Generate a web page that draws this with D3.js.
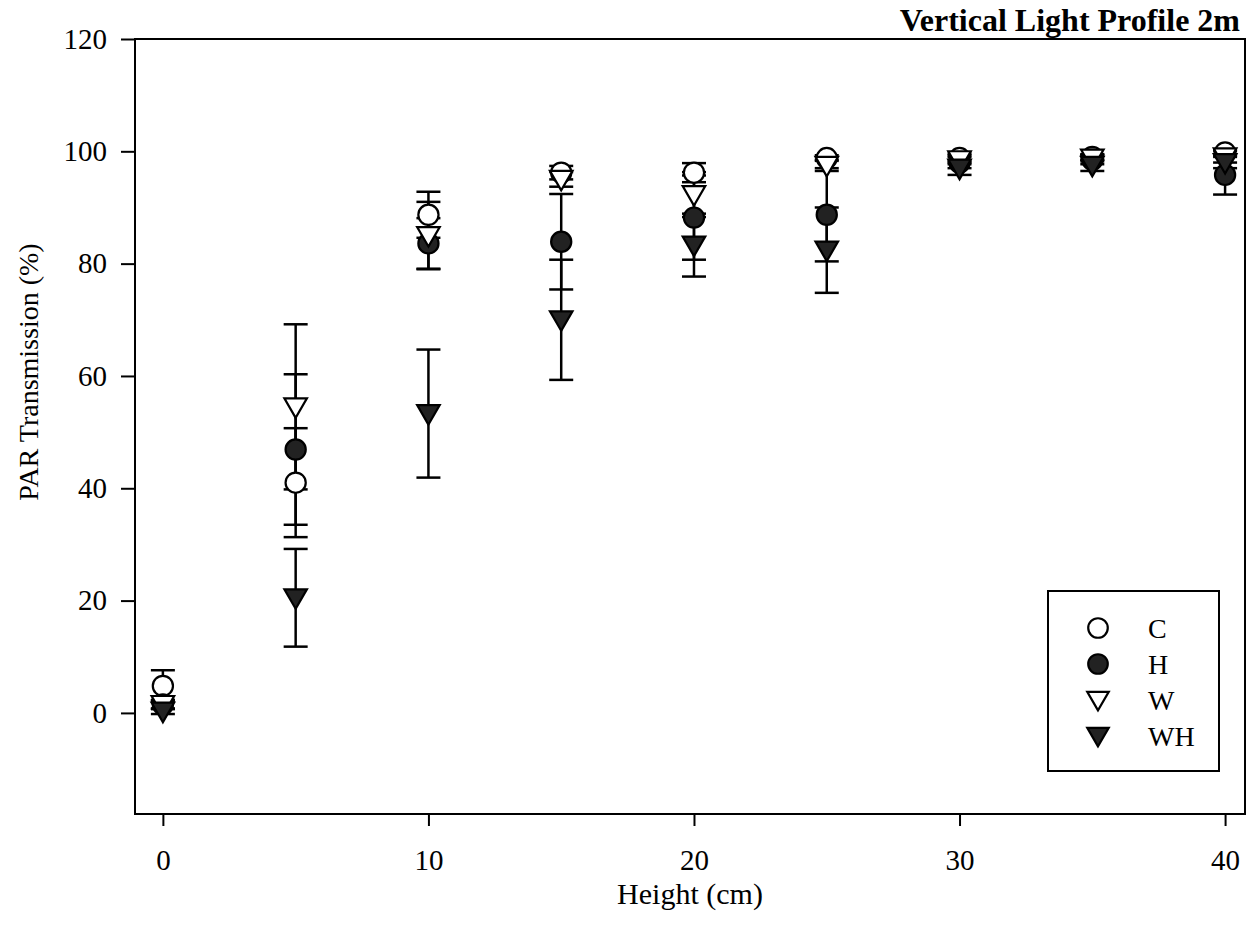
<!DOCTYPE html>
<html>
<head>
<meta charset="utf-8">
<script src="https://cdn.jsdelivr.net/npm/d3@7"></script>
<style>
  body { margin: 0; background: #fff; }
  svg { display: block; }
  text { font-family: "Liberation Serif", "Times New Roman", serif; fill: #000; }
</style>
</head>
<body>
<script>
// heights (cm) and PAR transmission (%) per treatment, with error bars
var heights = [0, 5, 10, 15, 20, 25, 30, 35, 40];
var cVals  = [4.8, 41, 88.7, 96.2, 96.2, 98.8, 98.8, 99, 99.8];
var cErr   = [2.8, 9.7, 4.1, 1.2, 1.7, 0.5, 0.8, 0.5, 0.5];
var hVals  = [1.5, 46.9, 83.6, 83.9, 88.2, 88.7, 98, 98.5, 95.8];
var hErr   = [0.8, 13.4, 4.5, 8.5, 7.5, 8.3, 1, 0.8, 3.5];
var wVals  = [1.5, 54.5, 85, 95, 92.3, 97.5, 98.5, 98.8, 99];
var wErr   = [0.8, 14.7, 6, 1.3, 4, 1, 0.8, 0.6, 1];
var whVals = [0.3, 20.5, 53.3, 70, 83.3, 82.4, 97, 97.5, 98];
var whErr  = [0.5, 8.7, 11.4, 10.7, 5.6, 7.6, 1.2, 1, 1];

var seriesNames = ['C', 'H', 'W', 'WH'];
var xTicks = [0, 10, 20, 30, 40];
var yTicks = [0, 20, 40, 60, 80, 100, 120];

var series = [
  {name: 'C',  vals: cVals,  err: cErr,  shape: 'circle',   filled: false},
  {name: 'H',  vals: hVals,  err: hErr,  shape: 'circle',   filled: true},
  {name: 'W',  vals: wVals,  err: wErr,  shape: 'triangle', filled: false},
  {name: 'WH', vals: whVals, err: whErr, shape: 'triangle', filled: true}
];

//plot area (named so they don't clash with window.top)
var plotL = 135, plotR = 1245, plotT = 39, plotB = 814;

var svg = d3.select('body').append('svg')
    .attr('width', 1247)
    .attr('height', 940);

var xScale = d3.scaleLinear().domain([-1.05, 40.75]).range([plotL, plotR]);
var yScale = d3.scaleLinear().domain([-18, 120]).range([plotB, plotT]);

//frame
svg.append('rect')
    .attr('x', plotL).attr('y', plotT)
    .attr('width', plotR - plotL).attr('height', plotB - plotT)
    .attr('fill', 'none').attr('stroke', '#000').attr('stroke-width', 2);

//axes
var xAxis = d3.axisBottom(xScale).tickValues(xTicks).tickSize(12).tickPadding(23);
var yAxis = d3.axisLeft(yScale).tickValues(yTicks).tickSize(14).tickPadding(14);

var gx = svg.append('g')
    .attr('transform', 'translate(0,' + plotB + ')')
    .call(xAxis);
var gy = svg.append('g')
    .attr('transform', 'translate(' + plotL + ',0)')
    .call(yAxis);

[gx, gy].forEach(function(g) {
  g.select('.domain').remove();
  g.selectAll('.tick line').attr('stroke', '#000').attr('stroke-width', 2);
  g.selectAll('.tick text')
      .style('font-family', '"Liberation Serif", serif')
      .style('font-size', '29px')
      .attr('fill', '#000');
});

//axis titles
svg.append('text')
    .attr('x', 690).attr('y', 904)
    .attr('text-anchor', 'middle')
    .style('font-size', '30px')
    .text('Height (cm)');

svg.append('text')
    .attr('transform', 'translate(38,372) rotate(-90)')
    .attr('text-anchor', 'middle')
    .style('font-size', '28px')
    .text('PAR Transmission (%)');

svg.append('text')
    .attr('x', 1240).attr('y', 31)
    .attr('text-anchor', 'end')
    .style('font-size', '32px')
    .style('font-weight', 'bold')
    .text('Vertical Light Profile 2m');

//symbol helper
function symPath(shape, size) {
  var t = shape === 'circle' ? d3.symbolCircle : d3.symbolTriangle;
  return d3.symbol().type(t).size(size)();
}
function symTransform(shape, x, y) {
  return 'translate(' + x + ',' + y + ')' + (shape === 'triangle' ? ' rotate(180)' : '');
}

//error bars
var capW = 12;
series.forEach(function(s) {
  var g = svg.append('g').attr('class', 'err-' + s.name);
  heights.forEach(function(h, i) {
    var x = xScale(h),
        y1 = yScale(s.vals[i] + s.err[i]),
        y0 = yScale(s.vals[i] - s.err[i]);
    g.append('line').attr('x1', x).attr('x2', x).attr('y1', y1).attr('y2', y0)
        .attr('stroke', '#000').attr('stroke-width', 2.5);
    [y1, y0].forEach(function(yy) {
      g.append('line').attr('x1', x - capW).attr('x2', x + capW).attr('y1', yy).attr('y2', yy)
          .attr('stroke', '#000').attr('stroke-width', 2.5);
    });
  });
});

//markers
series.forEach(function(s) {
  var size = s.shape === 'circle' ? 320 : 220;
  svg.append('g').attr('class', 'pts-' + s.name)
    .selectAll('path')
    .data(heights)
    .enter().append('path')
      .attr('d', symPath(s.shape, size))
      .attr('transform', function(h, i) {
        var dy = s.shape === 'triangle' ? -2 : 0;
        return symTransform(s.shape, xScale(h), yScale(s.vals[i]) + dy);
      })
      .attr('fill', s.filled ? '#222' : '#fff')
      .attr('stroke', '#000')
      .attr('stroke-width', 2.2);
});

//legend
var legend = svg.append('g');
legend.append('rect')
    .attr('x', 1048).attr('y', 591)
    .attr('width', 171).attr('height', 180)
    .attr('fill', '#fff').attr('stroke', '#000').attr('stroke-width', 2);

var rowY = d3.scalePoint().domain(seriesNames).range([628, 736]);
series.forEach(function(s) {
  var y = rowY(s.name);
  legend.append('path')
      .attr('d', symPath(s.shape, s.shape === 'circle' ? 300 : 200))
      .attr('transform', symTransform(s.shape, 1098, y + (s.shape === 'triangle' ? -2 : 0)))
      .attr('fill', s.filled ? '#222' : '#fff')
      .attr('stroke', '#000')
      .attr('stroke-width', 2.2);
  legend.append('text')
      .attr('x', 1148).attr('y', y + 10)
      .style('font-size', '28px')
      .text(s.name);
});
</script>
</body>
</html>
